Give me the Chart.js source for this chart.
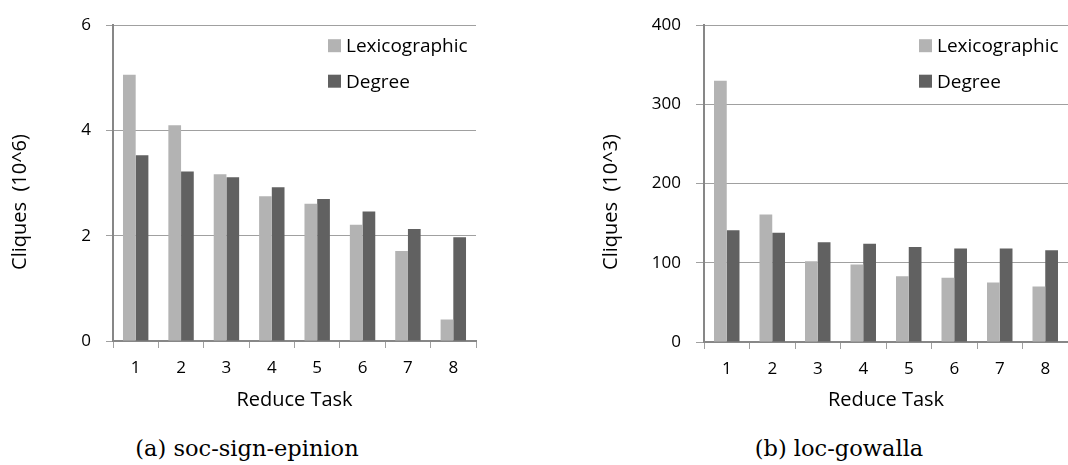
<!DOCTYPE html>
<html>
<head>
<meta charset="utf-8">
<script src="https://cdn.jsdelivr.net/npm/chart.js@4.4.1/dist/chart.umd.min.js"></script>
<style>
  body { margin: 0; background: #fff; width: 1068px; height: 465px; position: relative; overflow: hidden; }
  .wrap { position: absolute; top: 0; height: 420px; }
  .cap { position: absolute; top: 435px; font-family: "DejaVu Serif", serif; font-size: 22.5px; color: #000;
         white-space: nowrap; transform: translateX(-50%); line-height: 27px; }
</style>
</head>
<body>
<div class="wrap" style="left:0;width:500px"><canvas id="chartA"></canvas></div>
<div class="wrap" style="left:591px;width:477px"><canvas id="chartB"></canvas></div>
<div class="cap" style="left:247px">(a) soc-sign-epinion</div>
<div class="cap" style="left:839px">(b) loc-gowalla</div>
<script>
const tasks = ['1', '2', '3', '4', '5', '6', '7', '8'];
const seriesNames = ['Lexicographic', 'Degree'];

// soc-sign-epinion, cliques in 10^6
const epinionLex = [5.06, 4.10, 3.17, 2.75, 2.61, 2.21, 1.71, 0.41];
const epinionDeg = [3.53, 3.22, 3.11, 2.92, 2.70, 2.46, 2.13, 1.97];
const epinionTicks = [0, 2, 4, 6];

// loc-gowalla, cliques in 10^3
const gowallaLex = [330, 161, 102, 98, 83, 81, 75, 70];
const gowallaDeg = [141, 138, 126, 124, 120, 118, 118, 116];
const gowallaTicks = [0, 100, 200, 300, 400];

const LEX_COLOR = '#b3b3b3';
const DEG_COLOR = '#616161';
const FONT = 'Open Sans';

// legend inside the plot + y title that sits a bit below the middle, like the original
const sideNotes = {
  id: 'sideNotes',
  afterDraw(chart, args, opts) {
    const { ctx, chartArea } = chart;
    ctx.save();
    ctx.font = '19px "' + FONT + '"';
    ctx.textBaseline = 'middle';
    ctx.textAlign = 'left';
    chart.data.datasets.forEach((ds, i) => {
      const x = chartArea.left + 215;
      const y = chartArea.top + 20.5 + i * 35.5;
      ctx.fillStyle = ds.backgroundColor;
      ctx.fillRect(x, y - 6.5, 13, 13);
      ctx.fillStyle = '#000';
      ctx.fillText(ds.label, x + 18, y + 1);
    });

    ctx.translate(20, 202);
    ctx.rotate(-Math.PI / 2);
    ctx.font = '20px "' + FONT + '"';
    ctx.textAlign = 'center';
    ctx.fillText(opts.yTitle, 0, 0);
    ctx.restore();
  }
};

function makeChart(id, lex, deg, yTicks, yTitle, top, bottom, right, tickLen) {
  const ctx = document.getElementById(id).getContext('2d');
  return new Chart(ctx, {
    type: 'bar',
    data: {
      labels: tasks,
      datasets: [
        { label: seriesNames[0], data: lex, backgroundColor: LEX_COLOR, borderWidth: 0 },
        { label: seriesNames[1], data: deg, backgroundColor: DEG_COLOR, borderWidth: 0 }
      ]
    },
    options: {
      responsive: true,
      maintainAspectRatio: false,
      animation: false,
      layout: { padding: { top: top, right: right, left: 0, bottom: 0 } },
      datasets: { bar: { categoryPercentage: 0.56, barPercentage: 1 } },
      plugins: {
        legend: { display: false },
        tooltip: { enabled: false },
        sideNotes: { yTitle: yTitle }
      },
      scales: {
        x: {
          grid: { offset: true, drawOnChartArea: false, drawTicks: true, tickLength: 7, color: '#a0a0a0', lineWidth: 1 },
          border: { color: '#878787', width: 2 },
          ticks: { color: '#000', font: { family: FONT, size: 17 }, padding: 10 },
          title: {
            display: true, text: 'Reduce Task', color: '#000',
            font: { family: FONT, size: 20 }, padding: { top: 0, bottom: 8 }
          },
          afterFit: (s) => { s.height = 420 - bottom; }
        },
        y: {
          min: yTicks[0],
          max: yTicks[yTicks.length - 1],
          afterBuildTicks: (s) => { s.ticks = yTicks.map(v => ({ value: v })); },
          grid: { color: '#a0a0a0', lineWidth: 1, tickLength: tickLen },
          border: { color: '#878787', width: 2 },
          ticks: { color: '#000', font: { family: FONT, size: 17 }, padding: 15 },
          afterFit: (s) => { s.width = 113; }
        }
      }
    },
    plugins: [sideNotes]
  });
}

makeChart('chartA', epinionLex, epinionDeg, epinionTicks, 'Cliques  (10^6)', 12, 341, 24, 7);
makeChart('chartB', gowallaLex, gowallaDeg, gowallaTicks, 'Cliques  (10^3)', 11, 342, 0, 8);
</script>
</body>
</html>
